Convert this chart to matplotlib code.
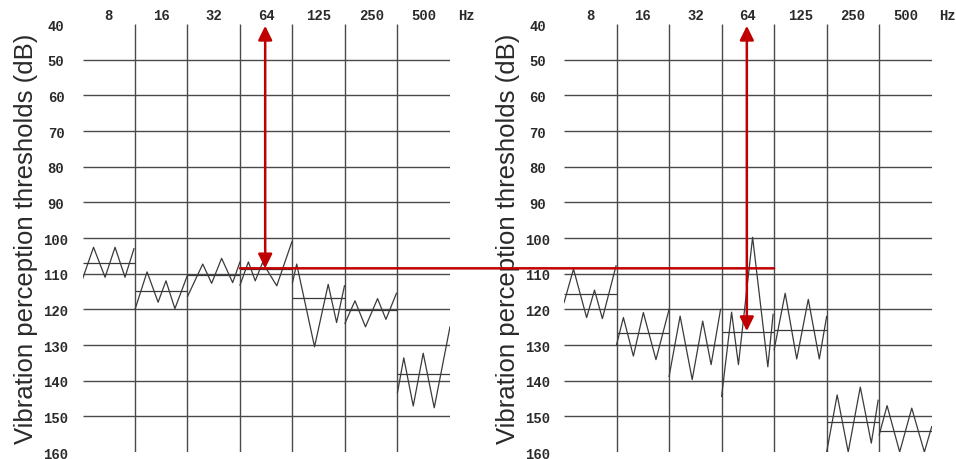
import matplotlib.pyplot as plt
from matplotlib.patches import ConnectionPatch

# frequency bands (one column each)
freqs = ["8", "16", "32", "64", "125", "250", "500"]
db_ticks = [40, 50, 60, 70, 80, 90, 100, 110, 120, 130, 140, 150, 160]

# Bekesy tracings, left panel: x position inside column (0..1) and level in dB
left_x = [
    [0.0, 0.21, 0.43, 0.62, 0.81, 0.98],
    [0.0, 0.23, 0.44, 0.59, 0.76, 1.0],
    [0.0, 0.29, 0.46, 0.65, 0.86, 1.0],
    [0.0, 0.16, 0.29, 0.43, 0.70, 0.99],
    [0.0, 0.08, 0.42, 0.68, 0.84, 0.99],
    [0.0, 0.19, 0.39, 0.62, 0.78, 0.98],
    [0.0, 0.12, 0.30, 0.49, 0.70, 1.0],
]
left_y = [
    [111.5, 102.6, 111.0, 102.6, 111.0, 103.0],
    [120.0, 109.5, 118.0, 112.0, 119.8, 110.4],
    [116.4, 107.3, 112.7, 105.7, 112.5, 106.7],
    [113.2, 106.7, 112.0, 106.9, 113.4, 101.0],
    [112.5, 107.3, 130.5, 113.0, 123.7, 113.4],
    [123.9, 117.6, 124.9, 117.0, 122.8, 115.5],
    [143.3, 133.6, 147.1, 132.3, 147.6, 124.9],
]
left_mean = [107.1, 114.8, 110.5, 108.6, 116.9, 120.2, 138.1]

# right panel
right_x = [
    [0.0, 0.18, 0.43, 0.58, 0.73, 0.99],
    [0.0, 0.13, 0.32, 0.51, 0.75, 1.0],
    [0.0, 0.21, 0.44, 0.64, 0.80, 0.98],
    [0.0, 0.19, 0.32, 0.59, 0.88, 0.98],
    [0.0, 0.21, 0.43, 0.65, 0.86, 1.0],
    [0.0, 0.20, 0.41, 0.64, 0.85, 0.98],
    [0.0, 0.15, 0.39, 0.62, 0.86, 1.0],
]
right_y = [
    [118.1, 108.7, 122.3, 114.6, 122.6, 107.8],
    [129.9, 122.3, 133.1, 120.9, 134.1, 120.0],
    [138.8, 121.9, 139.7, 123.3, 135.5, 120.0],
    [144.4, 120.8, 135.5, 99.8, 136.1, 121.4],
    [131.3, 115.5, 133.9, 117.2, 133.9, 122.0],
    [160.0, 144.0, 160.0, 141.8, 157.5, 145.5],
    [155.2, 147.0, 160.0, 147.7, 160.0, 152.9],
]
right_mean = [115.8, 126.6, 130.0, 126.4, 125.8, 151.5, 154.0]

# red markers: 64 Hz level on the left, 64 Hz level on the right
ref_level = 108.5
right_level = 126.1

RED = "#c00000"
GRID = "#4a4a4a"
TRACE = "#3a3a3a"
TXT = "#2a2a2a"
mono = "Liberation Mono"

fig = plt.figure(figsize=(9.56, 4.6), dpi=100)
ax1 = fig.add_axes([0.0863, 0.0152, 0.3844, 0.9304])
ax2 = fig.add_axes([0.5900, 0.0152, 0.3846, 0.9304])


def draw_panel(ax, xs, ys, means):
    ax.set_xlim(0, len(freqs))
    ax.set_ylim(160, 40)
    for s in ax.spines.values():
        s.set_visible(False)
    # grid
    ax.hlines(db_ticks[1:-1], 0, len(freqs), color=GRID, lw=1.0)
    ax.vlines(range(1, len(freqs)), 40, 160, color=GRID, lw=1.0)
    # tracings + mean lines
    for i in range(len(freqs)):
        ax.plot([i + x for x in xs[i]], ys[i], color=TRACE, lw=0.9)
        ax.hlines(means[i], i, i + 1, color=TRACE, lw=0.9)
    ax.set_yticks(db_ticks)
    ax.set_yticklabels([str(t) for t in db_ticks], family=mono,
                       fontsize=10, fontweight="bold", color=TXT, ha="center")
    ax.tick_params(axis="y", length=0, pad=19)
    ax.xaxis.tick_top()
    ax.set_xticks([i + 0.5 for i in range(len(freqs))])
    ax.set_xticklabels(freqs, family=mono, fontsize=10,
                       fontweight="bold", color=TXT)
    ax.tick_params(axis="x", length=0, pad=1.5)
    ax.annotate("Hz", xy=(len(freqs) + 0.15, 40), xytext=(0, 1.5),
                textcoords="offset points", family=mono, fontsize=10,
                fontweight="bold", color=TXT, ha="left", va="bottom",
                annotation_clip=False)
    ax.set_ylabel("Vibration perception thresholds (dB)", family="Liberation Sans",
                  fontsize=18.5, color=TXT, labelpad=4)


draw_panel(ax1, left_x, left_y, left_mean)
draw_panel(ax2, right_x, right_y, right_mean)

arrow = dict(arrowstyle="<|-|>,head_length=0.85,head_width=0.42",
             color=RED, lw=1.8, shrinkA=0, shrinkB=0, mutation_scale=10)
ax1.annotate("", xy=(3.48, 40.5), xytext=(3.48, ref_level), arrowprops=arrow)
ax2.annotate("", xy=(3.48, 40.5), xytext=(3.48, right_level), arrowprops=arrow)

# horizontal red line joining the two panels
con = ConnectionPatch(xyA=(3.0, ref_level), coordsA=ax1.transData,
                      xyB=(4.0, ref_level), coordsB=ax2.transData,
                      color=RED, lw=1.8)
fig.add_artist(con)

fig.savefig("out.png", dpi=100)
